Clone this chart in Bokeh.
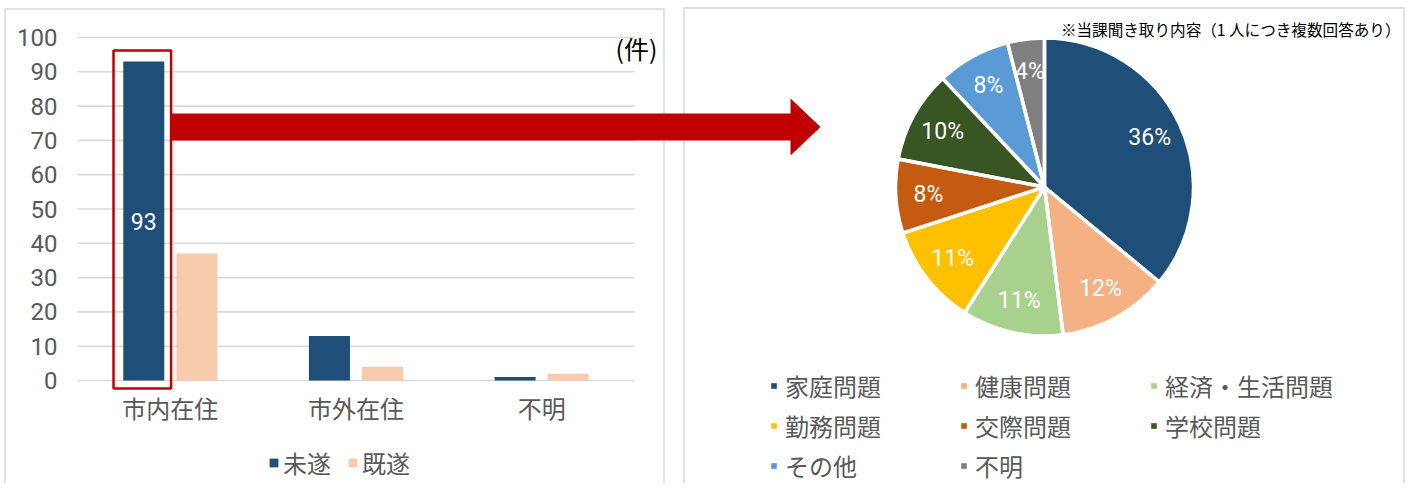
import math
from bokeh.plotting import figure
from bokeh.models import Range1d, LinearAxis, FixedTicker, Legend, LegendItem, ColumnDataSource
from bokeh.core.properties import value
from bokeh.embed import file_html
from bokeh.resources import INLINE

# ---------------- data ----------------
categories = ["市内在住", "市外在住", "不明"]
series_names = ["未遂", "既遂"]
mitsui = [93, 13, 1]
kisui = [37, 4, 2]
y_ticks = [0, 10, 20, 30, 40, 50, 60, 70, 80, 90, 100]
unit_label = "(件)"

pie_labels = ["家庭問題", "健康問題", "経済・生活問題", "勤務問題",
              "交際問題", "学校問題", "その他", "不明"]
pie_values = [36, 12, 11, 11, 8, 10, 8, 4]
note_text = "※当課聞き取り内容（1 人につき複数回答あり）"

# ---------------- style ----------------
bar_colors = ["#1F4E79", "#F8CBAD"]
pie_colors = ["#1F4E79", "#F4B183", "#A9D18E", "#FFC000",
              "#C55A11", "#375623", "#5B9BD5", "#7F7F7F"]
JP = "Noto Sans CJK JP"
NUM = "Roboto"
GRAY_TXT = "#595959"
GRID = "#D9D9D9"
RED = "#C00000"

W, H = 1405, 483
PX0, PX1 = 0, W          # page x of canvas
PY0, PY1 = 0, H          # page y of canvas

# bar plot area (page px)
AX0, AX1 = 77, 634
AY0, AY100 = 380, 37
ncat = len(categories)

def cat_v(X):
    return ncat * (X - AX0) / (AX1 - AX0)

def cnt_v(Y):
    return 100 * (AY0 - Y) / (AY0 - AY100)

p = figure(width=W, height=H, x_range=Range1d(PX0, PX1), y_range=Range1d(-PY1, -PY0),
           output_backend="svg", toolbar_location=None, x_axis_type=None, y_axis_type=None,
           min_border=0, outline_line_color=None, background_fill_color="white",
           border_fill_color="white")
p.extra_x_ranges = {"cat": Range1d(cat_v(PX0), cat_v(PX1))}
p.extra_y_ranges = {"cnt": Range1d(cnt_v(PY1), cnt_v(PY0))}

# panel borders
p.quad(left=[4.5, 683.5], right=[663.5, W - 1.5], top=[-8.5, -7.5],
       bottom=[-(H + 20), -(H + 20)], fill_color=None, line_color=GRID, line_width=1.5)

# gridlines
p.segment(x0=[0] * len(y_ticks), x1=[ncat] * len(y_ticks), y0=y_ticks, y1=y_ticks,
          x_range_name="cat", y_range_name="cnt", line_color=GRID, line_width=1.6)

# bars
centers = [i + 0.5 for i in range(ncat)]
off = 0.143
bw = 0.221
src = ColumnDataSource(dict(x1=[c - off for c in centers], x2=[c + off for c in centers],
                            m=mitsui, k=kisui))
r_m = p.vbar(x="x1", top="m", bottom=0, width=bw, source=src, fill_color=bar_colors[0],
             line_color=None, x_range_name="cat", y_range_name="cnt")
r_k = p.vbar(x="x2", top="k", bottom=0, width=bw, source=src, fill_color=bar_colors[1],
             line_color=None, x_range_name="cat", y_range_name="cnt")

# data label of the highlighted bar
p.text(x=[centers[0] - off], y=[mitsui[0] / 2], text=[str(mitsui[0])],
       x_range_name="cat", y_range_name="cnt", text_align="center", text_baseline="middle",
       text_color="white", text_font=value(NUM), text_font_size="23px")

# highlight rectangle around it
p.rect(x=[centers[0] - off - 0.008], y=[(mitsui[0] + 3.2 - 2.3) / 2], width=0.31,
       height=mitsui[0] + 3.2 + 2.3, x_range_name="cat", y_range_name="cnt",
       fill_color=None, line_color=RED, line_width=2.5)

# axes
yaxis = LinearAxis(x_range_name="cat", y_range_name="cnt", fixed_location=0,
                   ticker=FixedTicker(ticks=y_ticks), axis_line_color=None,
                   major_tick_line_color=None, minor_tick_line_color=None,
                   major_tick_out=0, major_tick_in=0,
                   major_label_standoff=20, major_label_text_font=NUM,
                   major_label_text_font_size="24px", major_label_text_color=GRAY_TXT)
p.add_layout(yaxis, "left")
xaxis = LinearAxis(x_range_name="cat", y_range_name="cnt", fixed_location=0,
                   ticker=FixedTicker(ticks=centers),
                   major_label_overrides={c: n for c, n in zip(centers, categories)},
                   axis_line_color=None, major_tick_line_color=None,
                   major_tick_out=0, major_tick_in=0,
                   minor_tick_line_color=None, major_label_standoff=9,
                   major_label_text_font=JP, major_label_text_font_size="24px",
                   major_label_text_color=GRAY_TXT)
p.add_layout(xaxis, "below")

p.text(x=[657], y=[-47], text=[unit_label], text_align="right", text_baseline="middle",
       text_font=value(JP), text_font_size="25px", text_color="#000000")

# bar legend
leg1 = Legend(items=[LegendItem(label=series_names[0], renderers=[r_m]),
                     LegendItem(label=series_names[1], renderers=[r_k])],
              orientation="horizontal", location=(268, 2.7), glyph_width=11, glyph_height=11,
              label_standoff=4, spacing=16, padding=0, margin=0, label_text_font=JP,
              label_text_font_size="24px", label_text_color=GRAY_TXT,
              background_fill_alpha=0, border_line_color=None)
p.add_layout(leg1)

# red arrow (decoration)
ax = [171, 790, 790, 820, 790, 790, 171]
ay = [113, 113, 98, 126.5, 155, 140, 140]
p.patch(x=ax, y=[-v for v in ay], fill_color=RED, line_color=None)

# pie
CX, CY, R = 1044, -186.5, 149
tot = sum(pie_values)
cum = [0]
for v in pie_values:
    cum.append(cum[-1] + v)
starts = [math.pi / 2 - 2 * math.pi * cum[i] / tot for i in range(len(pie_values))]
ends = [math.pi / 2 - 2 * math.pi * cum[i + 1] / tot for i in range(len(pie_values))]
psrc = ColumnDataSource(dict(s=starts, e=ends, c=pie_colors, lab=pie_labels))
r_pie = p.wedge(x=CX, y=CY, radius=R, start_angle="s", end_angle="e", direction="clock",
                fill_color="c", line_color=None, source=psrc)
p.wedge(x=CX, y=CY, radius=R, start_angle="s", end_angle="e", direction="clock",
        fill_color=None, line_color="white", line_width=3.5, source=psrc)
mids = [(a + b) / 2 for a, b in zip(starts, ends)]
lr = 0.78 * R
p.text(x=[CX + lr * math.cos(m) for m in mids], y=[CY + lr * math.sin(m) for m in mids],
       text=[f"{round(100 * v / tot)}%" for v in pie_values], text_align="center",
       text_baseline="middle", text_color="white", text_font=value(NUM), text_font_size="23px")

p.text(x=[1400], y=[-28], text=[note_text], text_align="right", text_baseline="middle",
       text_font=value(JP), text_font_size="15.6px", text_color="#000000")

leg2 = Legend(items=[LegendItem(label=lab, renderers=[r_pie], index=i)
                     for i, lab in enumerate(pie_labels)],
              orientation="horizontal", ncols=3, location=(770, 0), glyph_width=7,
              glyph_height=7, label_standoff=8, spacing=5, padding=0, margin=0,
              label_width=170, label_height=26, label_text_font=JP,
              label_text_font_size="24px",
              label_text_color=GRAY_TXT, background_fill_alpha=0, border_line_color=None)
p.add_layout(leg2)

open("out.html", "w").write(file_html(p, INLINE))
